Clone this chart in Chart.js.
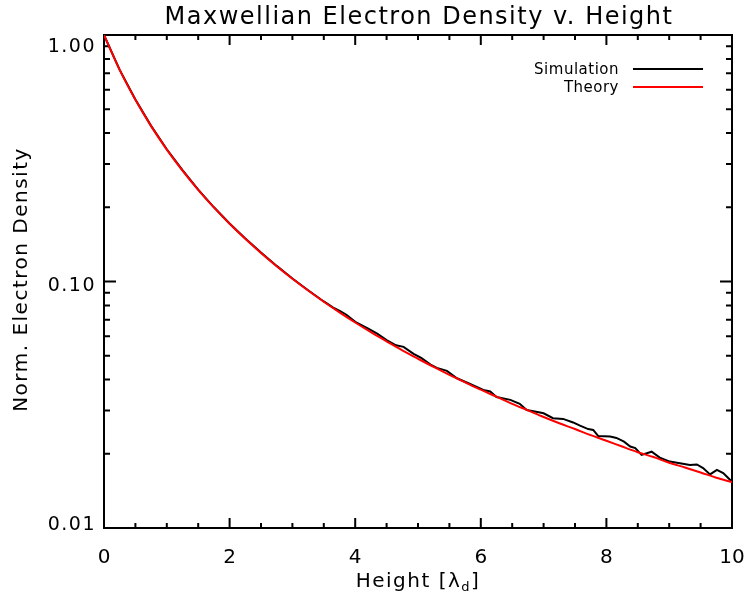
<!DOCTYPE html>
<html>
<head>
<meta charset="utf-8">
<script src="https://cdn.jsdelivr.net/npm/chart.js@4.4.0/dist/chart.umd.min.js"></script>
<style>
  html, body { margin: 0; padding: 0; background: #fff; }
  #wrap { width: 747px; height: 601px; }
</style>
</head>
<body>
<div id="wrap"><canvas id="chart" width="747" height="601"></canvas></div>
<script>
// values
const theoryHeight = [0, 0.25, 0.5, 0.75, 1, 1.25, 1.5, 1.75, 2, 2.25, 2.5, 2.75, 3, 3.25, 3.5, 3.75, 4, 4.25, 4.5, 4.75,
    5, 5.25, 5.5, 5.75, 6, 6.25, 6.5, 6.75, 7, 7.25, 7.5, 7.75, 8, 8.25, 8.5, 8.75, 9, 9.25, 9.5, 9.75, 10];
const theoryDensity = [1.000, 0.722, 0.546, 0.427, 0.343, 0.282, 0.2355, 0.1998, 0.1716, 0.149, 0.1305, 0.1153, 0.1026, 0.0919,
    0.0828, 0.0750, 0.0682, 0.0623, 0.0572, 0.0526, 0.0486, 0.0450, 0.0418, 0.0390, 0.0364, 0.0341, 0.0319, 0.0300,
    0.0282, 0.0266, 0.0252, 0.0238, 0.0226, 0.0214, 0.0203, 0.0194, 0.0184, 0.0176, 0.0168, 0.0160, 0.01535];

const simHeight = [0, 0.25, 0.5, 0.75, 1, 1.25, 1.5, 1.75, 2, 2.25, 2.5, 2.75, 3, 3.25, 3.5, 3.65, 3.76, 3.86, 4.0, 4.2,
    4.35, 4.5, 4.65, 4.77, 4.93, 5.05, 5.2, 5.3, 5.46, 5.62, 5.83, 6.04, 6.15, 6.25, 6.47, 6.62, 6.73, 6.86, 7.0, 7.15,
    7.31, 7.47, 7.58, 7.71, 7.79, 7.87, 8.06, 8.16, 8.28, 8.38, 8.46, 8.56, 8.72, 8.85, 9.01, 9.17, 9.33, 9.44, 9.54, 9.65,
    9.76, 9.86, 10];
const simDensity = [1.0, 0.722, 0.547, 0.428, 0.344, 0.283, 0.236, 0.2, 0.1718, 0.1495, 0.131, 0.1157, 0.1029, 0.0922,
    0.083, 0.0784, 0.0758, 0.0733, 0.0686, 0.0645, 0.0614, 0.0578, 0.0551, 0.0543, 0.0509, 0.0490, 0.0460, 0.0446,
    0.0434, 0.0405, 0.0384, 0.0363, 0.0358, 0.0340, 0.0331, 0.0319, 0.0301, 0.0297, 0.0292, 0.0279, 0.0277, 0.0268,
    0.0260, 0.0252, 0.0250, 0.0236, 0.0235, 0.0232, 0.0224, 0.0214, 0.0211, 0.0198, 0.0204, 0.0193, 0.0186, 0.0183,
    0.0180, 0.0181, 0.0175, 0.0165, 0.0172, 0.0167, 0.0154];

const xMajorTicks = [0, 2, 4, 6, 8, 10];
const xMinorTicks = [0.5, 1, 1.5, 2.5, 3, 3.5, 4.5, 5, 5.5, 6.5, 7, 7.5, 8.5, 9, 9.5];
const yMajorTicks = [0.01, 0.1, 1];
const yTickLabels = ['0.01', '0.10', '1.00'];
const yMinorTicks = [0.02, 0.03, 0.04, 0.05, 0.06, 0.07, 0.08, 0.09, 0.2, 0.3, 0.4, 0.5, 0.6, 0.7, 0.8, 0.9];

const chartTitle = 'Maxwellian Electron Density v. Height';
const yAxisTitle = 'Norm. Electron Density';
const xAxisTitle = ['Height [λ', 'd', ']'];
const legendLabels = ['Simulation', 'Theory'];
const legendColors = ['#000000', '#ff0000'];

const FONT = '"DejaVu Sans", sans-serif';

// IDL style: inward ticks on all four sides, box frame, custom texts
const idlAxes = {
    id: 'idlAxes',
    beforeDatasetsDraw(chart) {
        const { ctx, chartArea: a, scales: { x, y } } = chart;
        ctx.save();
        ctx.strokeStyle = '#000';
        ctx.lineWidth = 2;
        ctx.strokeRect(a.left, a.top, a.right - a.left, a.bottom - a.top);
        ctx.beginPath();
        const xt = (v, len) => {
            const p = x.getPixelForValue(v);
            ctx.moveTo(p, a.bottom); ctx.lineTo(p, a.bottom - len);
            ctx.moveTo(p, a.top); ctx.lineTo(p, a.top + len);
        };
        const yt = (v, len) => {
            const p = y.getPixelForValue(v);
            ctx.moveTo(a.left, p); ctx.lineTo(a.left + len, p);
            ctx.moveTo(a.right, p); ctx.lineTo(a.right - len, p);
        };
        xMajorTicks.forEach(v => xt(v, 10));
        xMinorTicks.forEach(v => xt(v, 5));
        yMajorTicks.forEach(v => yt(v, 12));
        yMinorTicks.forEach(v => yt(v, 6));
        ctx.stroke();
        ctx.restore();
    },
    afterDraw(chart) {
        const { ctx, chartArea: a, scales: { y } } = chart;
        ctx.save();
        ctx.fillStyle = '#000';

        // title
        ctx.letterSpacing = '1.5px';
        ctx.font = '24px ' + FONT;
        ctx.textAlign = 'center';
        ctx.textBaseline = 'alphabetic';
        ctx.fillText(chartTitle, (a.left + a.right) / 2 + 1, 24);

        // y tick labels
        ctx.font = '19px ' + FONT;
        ctx.textAlign = 'right';
        yMajorTicks.forEach((v, i) => {
            const p = y.getPixelForValue(v);
            let base = p + 3 + 6.75;
            base = Math.min(Math.max(base, a.top + 16.5), a.bottom + 1.5);
            ctx.fillText(yTickLabels[i], 96, base);
        });

        // y title
        ctx.font = '20px ' + FONT;
        ctx.save();
        ctx.translate(27, (a.top + a.bottom) / 2 - 2);
        ctx.rotate(-Math.PI / 2);
        ctx.textAlign = 'center';
        ctx.fillText(yAxisTitle, 0, 0);
        ctx.restore();

        // x title with subscript
        ctx.textAlign = 'left';
        ctx.font = '20px ' + FONT;
        const w0 = ctx.measureText(xAxisTitle[0]).width;
        const w2 = ctx.measureText(xAxisTitle[2]).width;
        ctx.font = '13px ' + FONT;
        const w1 = ctx.measureText(xAxisTitle[1]).width;
        let sx = (a.left + a.right) / 2 - (w0 + w1 + w2) / 2;
        ctx.font = '20px ' + FONT;
        ctx.fillText(xAxisTitle[0], sx, 587);
        sx += w0;
        ctx.font = '13px ' + FONT;
        ctx.fillText(xAxisTitle[1], sx, 591);
        sx += w1;
        ctx.font = '20px ' + FONT;
        ctx.fillText(xAxisTitle[2], sx, 587);

        // legend
        ctx.letterSpacing = '0.5px';
        ctx.font = '15px ' + FONT;
        ctx.textAlign = 'right';
        legendLabels.forEach((lab, i) => {
            const base = 74 + i * 18;
            ctx.fillStyle = '#000';
            ctx.fillText(lab, 619, base);
            ctx.strokeStyle = legendColors[i];
            ctx.lineWidth = 2;
            ctx.beginPath();
            ctx.moveTo(633, base - 5);
            ctx.lineTo(703, base - 5);
            ctx.stroke();
        });
        ctx.restore();
    }
};

const ctx = document.getElementById('chart').getContext('2d');
new Chart(ctx, {
    type: 'line',
    data: {
        datasets: [
            {
                label: legendLabels[1],
                data: theoryHeight.map((h, i) => ({ x: h, y: theoryDensity[i] })),
                borderColor: legendColors[1],
                borderWidth: 2,
                pointRadius: 0,
                cubicInterpolationMode: 'monotone',
                order: 0
            },
            {
                label: legendLabels[0],
                data: simHeight.map((h, i) => ({ x: h, y: simDensity[i] })),
                borderColor: legendColors[0],
                borderWidth: 2,
                pointRadius: 0,
                tension: 0,
                order: 1
            }
        ]
    },
    options: {
        responsive: false,
        animation: false,
        devicePixelRatio: 1,
        layout: { padding: { left: 0, right: 15, top: 35, bottom: 0 } },
        plugins: {
            legend: { display: false },
            title: { display: false },
            tooltip: { enabled: false }
        },
        scales: {
            x: {
                type: 'linear',
                min: 0,
                max: 10,
                grid: { display: false },
                border: { display: false },
                ticks: {
                    stepSize: 2,
                    color: '#000',
                    maxRotation: 0,
                    padding: 10,
                    font: { family: 'DejaVu Sans', size: 20 }
                },
                afterFit(scale) {
                    scale.height = 73;
                    scale.paddingLeft = 0;
                    scale.paddingRight = 0;
                }
            },
            y: {
                type: 'logarithmic',
                min: 0.01,
                max: 1,
                grid: { display: false },
                border: { display: false },
                ticks: { display: false },
                afterFit(scale) {
                    scale.width = 104;
                    scale.paddingTop = 0;
                    scale.paddingBottom = 0;
                }
            }
        }
    },
    plugins: [idlAxes]
});
</script>
</body>
</html>
